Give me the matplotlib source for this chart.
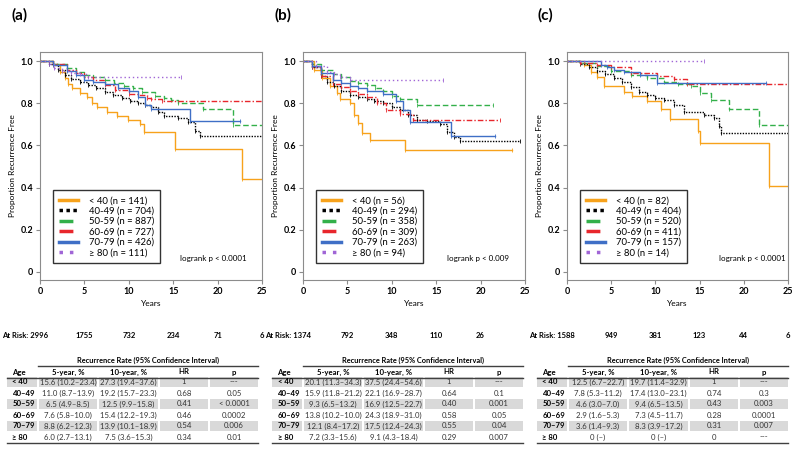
import matplotlib
matplotlib.use('Agg')
import matplotlib.pyplot as plt
import matplotlib.transforms as mtransforms

plt.rcParams['font.family'] = ['Lato', 'DejaVu Sans']

# ---- data ----
groups = ['< 40', '40-49', '50-59', '60-69', '70-79', '\u2265 80']
table_ages = ['< 40', '40\u201349', '50\u201359', '60\u201369', '70\u201379', '\u2265 80']
colors = ['#F7A21B', '#000000', '#33B04A', '#E8262C', '#3F6FC6', '#A065D6']
dashes = ['-', (0, (1, 1)), (0, (4, 2)), (0, (4, 1.5, 1, 1.5)), '-', (0, (1, 2))]
x_ticks = [0, 5, 10, 15, 20, 25]

# panel (a)
a_n = [141, 704, 887, 727, 426, 111]
a_times = [
    [0, 1.5, 2.2, 2.8, 3.2, 3.6, 4.5, 5.3, 5.8, 6.4, 7.6, 8.7, 9.9, 11.3, 11.7, 15.2, 22.8, 25],
    [0, 1, 2, 2.8, 3.5, 4.5, 5.4, 6.3, 7.3, 8.2, 9.2, 10.1, 11, 11.8, 12.5, 13.3, 14, 15.5, 16.7, 17.4, 18, 25],
    [0, 1.5, 3, 4, 5, 6, 7.3, 8.3, 9.5, 10.5, 11.5, 12.9, 14, 14.8, 15.5, 18.3, 21.7, 25],
    [0, 1.5, 3, 4, 5, 6, 7.3, 8.5, 10, 11, 12, 12.5, 13.7, 25],
    [0, 1.5, 3, 4, 5, 6, 7.3, 8.8, 10, 11, 11.8, 12.5, 16.9, 22.5],
    [0, 1, 1.6, 2.5, 3.5, 4.5, 5.4, 15.9],
]
a_surv = [
    [1, 0.98, 0.95, 0.92, 0.89, 0.87, 0.85, 0.83, 0.80, 0.78, 0.76, 0.74, 0.72, 0.70, 0.665, 0.585, 0.44, 0.44],
    [1, 0.985, 0.96, 0.935, 0.915, 0.90, 0.885, 0.87, 0.855, 0.84, 0.825, 0.81, 0.80, 0.79, 0.78, 0.76, 0.74, 0.73, 0.71, 0.67, 0.645, 0.645],
    [1, 0.985, 0.965, 0.95, 0.935, 0.925, 0.91, 0.895, 0.88, 0.87, 0.855, 0.835, 0.825, 0.815, 0.80, 0.775, 0.695, 0.695],
    [1, 0.985, 0.96, 0.945, 0.925, 0.91, 0.885, 0.865, 0.846, 0.84, 0.825, 0.82, 0.81, 0.81],
    [1, 0.98, 0.955, 0.935, 0.912, 0.90, 0.89, 0.87, 0.86, 0.83, 0.79, 0.775, 0.717, 0.717],
    [1, 0.985, 0.965, 0.955, 0.945, 0.94, 0.925, 0.925],
]
a_risk = [2996, 1755, 732, 234, 71, 6]
a_logrank = 'logrank p < 0.0001'
a_r5 = ['15.6 (10.2\u201323.4)', '11.0 (8.7\u201313.9)', '6.5 (4.9\u20138.5)', '7.6 (5.8\u201310.0)', '8.8 (6.2\u201312.3)', '6.0 (2.7\u201313.1)']
a_r10 = ['27.3 (19.4\u201337.6)', '19.2 (15.7\u201323.3)', '12.5 (9.9\u201315.8)', '15.4 (12.2\u201319.3)', '13.9 (10.1\u201318.9)', '7.5 (3.6\u201315.3)']
a_hr = ['1', '0.68', '0.41', '0.46', '0.54', '0.34']
a_p = ['---', '0.05', '< 0.0001', '0.0002', '0.006', '0.01']

# panel (b)
b_n = [56, 294, 358, 309, 263, 94]
b_times = [
    [0, 1.2, 2.1, 3.0, 3.8, 4.2, 5.3, 5.7, 6.2, 6.6, 7.5, 11.5, 23.5],
    [0, 1, 2, 2.7, 3.5, 4.3, 5.3, 6.2, 7.2, 8, 9, 10, 10.9, 11.8, 12.8, 14, 15.4, 16.2, 17, 17.7, 24.4],
    [0, 1, 2, 3.4, 4.3, 5.3, 6.2, 7.2, 8.1, 9, 10, 10.9, 12.8, 21.4],
    [0, 1, 2, 3.4, 4.3, 5.3, 6.2, 7.2, 8.3, 9.4, 10.9, 12.4, 22.2],
    [0, 1, 2, 3.4, 4.3, 5.3, 6.2, 7.2, 9, 10.5, 11.3, 12.1, 16.7, 21.6],
    [0, 1.5, 2.7, 3.5, 4.2, 5.3, 15.8],
]
b_surv = [
    [1, 0.96, 0.92, 0.88, 0.85, 0.82, 0.80, 0.745, 0.705, 0.66, 0.625, 0.58, 0.58],
    [1, 0.97, 0.93, 0.90, 0.88, 0.86, 0.84, 0.83, 0.82, 0.81, 0.80, 0.78, 0.77, 0.745, 0.72, 0.715, 0.70, 0.665, 0.64, 0.62, 0.62],
    [1, 0.985, 0.96, 0.94, 0.925, 0.905, 0.895, 0.885, 0.87, 0.86, 0.835, 0.82, 0.79, 0.79],
    [1, 0.97, 0.93, 0.89, 0.875, 0.86, 0.845, 0.83, 0.80, 0.77, 0.75, 0.72, 0.72],
    [1, 0.975, 0.945, 0.91, 0.895, 0.88, 0.87, 0.86, 0.845, 0.81, 0.77, 0.71, 0.645, 0.645],
    [1, 0.975, 0.95, 0.94, 0.925, 0.91, 0.91],
]
b_risk = [1374, 792, 348, 110, 26]
b_logrank = 'logrank p < 0.009'
b_r5 = ['20.1 (11.3\u201334.3)', '15.9 (11.8\u201321.2)', '9.3 (6.5\u201313.2)', '13.8 (10.2\u201310.0)', '12.1 (8.4\u201317.2)', '7.2 (3.3\u201315.6)']
b_r10 = ['37.5 (24.4\u201354.6)', '22.1 (16.9\u201328.7)', '16.9 (12.5\u201322.7)', '24.3 (18.9\u201331.0)', '17.5 (12.4\u201324.3)', '9.1 (4.3\u201318.4)']
b_hr = ['1', '0.64', '0.40', '0.58', '0.55', '0.29']
b_p = ['---', '0.1', '0.001', '0.05', '0.04', '0.007']

# panel (c)
c_n = [82, 404, 520, 411, 157, 14]
c_times = [
    [0, 1.9, 2.7, 3.4, 4.2, 6.5, 7.3, 9.1, 10.6, 11.7, 14.8, 15.1, 22.8, 25],
    [0, 1.5, 2.5, 3.4, 4.3, 5.3, 6.2, 7.2, 8.1, 9.1, 10, 11, 12.1, 13.2, 15.5, 16.6, 17.2, 17.4, 25],
    [0, 1.5, 3.4, 5, 7.2, 9, 11, 12.5, 14, 15.1, 16.3, 18.3, 21.7, 25],
    [0, 1.5, 3.4, 5, 7.2, 10.2, 12.1, 13.6, 25],
    [0, 3.8, 4.5, 5.3, 6.5, 8.3, 10.2, 22.5],
    [0, 15.5],
]
c_surv = [
    [1, 0.98, 0.95, 0.925, 0.88, 0.855, 0.835, 0.81, 0.775, 0.725, 0.67, 0.61, 0.41, 0.41],
    [1, 0.985, 0.97, 0.955, 0.94, 0.92, 0.90, 0.875, 0.855, 0.84, 0.826, 0.815, 0.79, 0.76, 0.745, 0.73, 0.69, 0.66, 0.66],
    [1, 0.99, 0.975, 0.954, 0.935, 0.92, 0.90, 0.89, 0.88, 0.85, 0.815, 0.775, 0.695, 0.695],
    [1, 0.99, 0.98, 0.97, 0.945, 0.927, 0.915, 0.89, 0.89],
    [1, 0.98, 0.97, 0.96, 0.95, 0.935, 0.895, 0.895],
    [1, 1],
]
c_risk = [1588, 949, 381, 123, 44, 6]
c_logrank = 'logrank p < 0.0001'
c_r5 = ['12.5 (6.7\u201322.7)', '7.8 (5.3\u201311.2)', '4.6 (3.0\u20137.0)', '2.9 (1.6\u20135.3)', '3.6 (1.4\u20139.3)', '0 (\u2013)']
c_r10 = ['19.7 (11.4\u201332.9)', '17.4 (13.0\u201323.1)', '9.4 (6.5\u201313.5)', '7.3 (4.5\u201311.7)', '8.3 (3.9\u201317.2)', '0 (\u2013)']
c_hr = ['1', '0.74', '0.43', '0.28', '0.31', '0']
c_p = ['---', '0.3', '0.003', '0.0001', '0.007', '---']

# ---- figure ----
fig = plt.figure(figsize=(8, 4.5), dpi=100)
W, H = 800, 450

over = fig.add_axes([0, 0, 1, 1])
over.set_xlim(0, W)
over.set_ylim(H, 0)
over.axis('off')


def km_panel(left, width, times, surv, ns, risk, logrank, lr_x):
    ax = fig.add_axes([left / W, (H - 280) / H, width / W, 228 / H])
    for i in range(len(groups)):
        ax.step(times[i], surv[i], where='post', color=colors[i], ls=dashes[i],
                lw=1.0, label='%s (n = %d)' % (groups[i], ns[i]))
        ax.plot(times[i][1:], surv[i][1:], ls='none', marker='|', ms=3,
                mew=0.6, color=colors[i])
    ax.set_xlim(0, 25)
    ax.set_ylim(-0.038, 1.043)
    ax.set_xticks(x_ticks)
    ax.set_yticks([0, 0.2, 0.4, 0.6, 0.8, 1.0])
    ax.set_yticklabels(['0', '0.2', '0.4', '0.6', '0.8', '1.0'])
    for s in ax.spines.values():
        s.set_color('#8c8c8c')
        s.set_linewidth(0.8)
    ax.tick_params(length=3, width=0.8, color='#8c8c8c', labelsize=6.5, pad=2)
    for t in ax.get_xticklabels() + ax.get_yticklabels():
        t.set_fontweight('bold')
    ax.set_xlabel('Years', fontsize=6, labelpad=3)
    ax.set_ylabel('Proportion Recurrence Free', fontsize=6, labelpad=3)

    leg = ax.legend(loc='lower left', bbox_to_anchor=(0.059, 0.075), fontsize=6.8,
                    frameon=True, fancybox=False, edgecolor='black',
                    handlelength=2.0, handletextpad=1.2, labelspacing=0.15,
                    borderpad=0.6, borderaxespad=0)
    leg.get_frame().set_linewidth(1.0)
    for ln in leg.get_lines():
        ln.set_linewidth(2.5)

    ax.text(lr_x, 0.096, logrank, transform=ax.transAxes, fontsize=5.8,
            va='center', ha='left')

    # at risk row
    tr = mtransforms.blended_transform_factory(ax.transData, ax.transAxes)
    ar_y = (280 - 336) / 228
    ax.text(0.9, ar_y, 'At Risk: %d' % risk[0], transform=tr, ha='right',
            va='center', fontsize=5.5, fontweight='bold', clip_on=False)
    for k in range(1, len(risk)):
        ax.text(x_ticks[k], ar_y, str(risk[k]), transform=tr, ha='center',
                va='center', fontsize=5.5, fontweight='bold', clip_on=False)
    return ax


def draw_table(off, r5, r10, hr, p):
    cols = [(7, 37), (39, 97), (99, 158), (160, 208), (210, 258)]
    y0, dy = 382, 11
    fs = 5.6
    over.text(off + 148, 360, 'Recurrence Rate (95% Confidence Interval)',
              ha='center', va='center', fontsize=5.3, fontweight='bold')
    over.plot([off + 38, off + 258], [366, 366], color='#404040', lw=1.0)
    heads = ['Age', '5-year, %', '10-year, %', 'HR', 'p']
    for j, h in enumerate(heads):
        if j == 0:
            over.text(off + 12.5, 372, h, ha='left', va='center', fontsize=fs,
                      fontweight='bold')
        else:
            over.text(off + (cols[j][0] + cols[j][1]) / 2, 372, h, ha='center',
                      va='center', fontsize=fs, fontweight='bold')
    over.plot([off + 7, off + 258], [377.5, 377.5], color='#404040', lw=1.0)
    for i in range(len(table_ages)):
        yc = y0 + i * dy
        if i % 2 == 0:
            for (x1, x2) in cols:
                over.add_patch(plt.Rectangle((off + x1, yc - 5), x2 - x1, 10,
                                             facecolor='#d9d9d9', edgecolor='none'))
        over.text(off + 12.5, yc, table_ages[i], ha='left', va='center',
                  fontsize=fs, fontweight='bold')
        vals = [r5[i], r10[i], hr[i], p[i]]
        for j, v in enumerate(vals):
            c = cols[j + 1]
            over.text(off + (c[0] + c[1]) / 2, yc, v, ha='center', va='center',
                      fontsize=fs, color='#333333')
    over.plot([off + 7, off + 258], [442.5, 442.5], color='#404040', lw=1.0)


km_panel(40, 222, a_times, a_surv, a_n, a_risk, a_logrank, 0.63)
km_panel(303, 222, b_times, b_surv, b_n, b_risk, b_logrank, 0.65)
km_panel(567, 221, c_times, c_surv, c_n, c_risk, c_logrank, 0.69)

for x, lab in zip([20, 283, 545], ['(a)', '(b)', '(c)']):
    over.text(x, 15, lab, ha='center', va='center', fontsize=11, fontweight='bold')

draw_table(0, a_r5, a_r10, a_hr, a_p)
draw_table(265, b_r5, b_r10, b_hr, b_p)
draw_table(530, c_r5, c_r10, c_hr, c_p)

fig.savefig('out.png', dpi=100)
